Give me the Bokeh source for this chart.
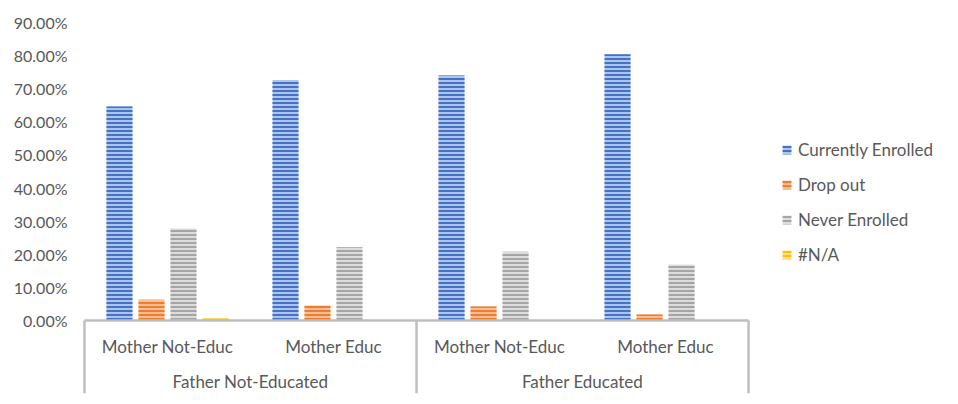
from bokeh.plotting import figure
from bokeh.models import Range1d, FixedTicker, PrintfTickFormatter, Legend, LegendItem, ColumnDataSource
from bokeh.core.properties import value
from bokeh.embed import file_html
from bokeh.resources import INLINE
import numpy as np

groups = ["Father Not-Educated", "Father Educated"]
subcats = ["Mother Not-Educ", "Mother Educ", "Mother Not-Educ", "Mother Educ"]
series = ["Currently Enrolled", "Drop out", "Never Enrolled", "#N/A"]
currently_enrolled = [64.6, 72.6, 74.0, 80.4]
drop_out = [6.3, 4.5, 4.2, 1.8]
never_enrolled = [27.8, 22.1, 20.8, 16.9]
na_values = [0.6, 0.0, 0.0, 0.0]
yticks = [0, 10, 20, 30, 40, 50, 60, 70, 80, 90]

values = [currently_enrolled, drop_out, never_enrolled, na_values]
fills = ["#AFC4EA", "#F8BE96", "#DCDCDC", "#FFE38A"]
hatches = ["#4472C4", "#ED7D31", "#A5A5A5", "#FFC000"]

FONT = "Lato"
TXT = "#595959"
AX = "#BFBFBF"

p = figure(frame_width=860, frame_height=372, output_backend="svg", toolbar_location=None,
           x_range=Range1d(-0.03, 5.15), y_range=Range1d(-22.35, 90),
           min_border_left=79, min_border_right=0, min_border_top=22, min_border_bottom=2)
p.outline_line_color = None
p.xgrid.visible = False
p.ygrid.visible = False
p.xaxis.visible = False
p.yaxis.ticker = FixedTicker(ticks=yticks)
p.yaxis.formatter = PrintfTickFormatter(format="%.2f%%")
p.yaxis.axis_line_color = None
p.yaxis.major_tick_line_color = None
p.yaxis.minor_tick_line_color = None
p.yaxis.major_tick_out = 0
p.yaxis.major_tick_in = 0
p.yaxis.major_label_text_font = FONT
p.yaxis.major_label_text_font_size = "16px"
p.yaxis.major_label_text_color = TXT
p.yaxis.major_label_standoff = 12

centers = np.arange(len(subcats)) + 0.5
step = 32 / 166
bw = 26 / 166
renderers = []
for k, (name, vals) in enumerate(zip(series, values)):
    src = ColumnDataSource(dict(x=centers + (k - 1.5) * step, top=vals))
    r = p.vbar(x="x", top="top", bottom=0, width=bw, source=src,
               fill_color=fills[k], line_color=None,
               hatch_pattern="horizontal_line", hatch_color=hatches[k],
               hatch_scale=4, hatch_weight=2)
    renderers.append(r)

# axis baseline and separators
p.segment(x0=[0], y0=[0], x1=[4], y1=[0], line_color=AX, line_width=2.5)
p.segment(x0=[0, 2, 4], y0=[0, 0, 0], x1=[0, 2, 4], y1=[-22.0, -22.0, -22.0], line_color=AX, line_width=2.5)

# category labels
p.text(x=centers, y=[-7.85] * 4, text=subcats, text_font=value(FONT), text_font_size="17px",
       text_color=TXT, text_align="center", text_baseline="middle")
p.text(x=[1.0, 3.0], y=[-18.4, -18.4], text=groups, text_font=value(FONT), text_font_size="17px",
       text_color=TXT, text_align="center", text_baseline="middle")

legend = Legend(items=[LegendItem(label=s, renderers=[r]) for s, r in zip(series, renderers)],
                location=(702, 129), border_line_color=None, background_fill_alpha=0,
                label_text_font=FONT, label_text_font_size="17px", label_text_color=TXT,
                glyph_width=11, glyph_height=11, label_height=20, spacing=14,
                label_standoff=6, margin=0, padding=8)
p.add_layout(legend)

open("out.html", "w").write(file_html(p, INLINE))
